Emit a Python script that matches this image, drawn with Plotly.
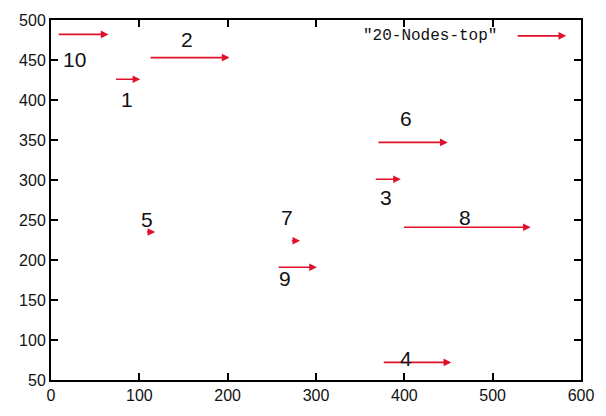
import plotly.graph_objects as go

# node ids and vector data (start x, end x, y)
nodes = ["1", "2", "3", "4", "5", "6", "7", "8", "9", "10"]
x_start = [72, 111, 366, 375, 107, 369, 271, 398, 256, 7]
x_end = [101, 202, 396, 453, 118, 449, 282, 543, 301, 65]
y_val = [426, 453, 301, 72, 235, 347, 224, 241, 191, 482]
label_x = [86, 154, 379, 402, 109, 402, 267, 469, 265, 27]
label_y = [401, 476, 278, 77, 251, 377, 253, 253, 177, 451]
x_ticks = [0, 100, 200, 300, 400, 500, 600]
y_ticks = [50, 100, 150, 200, 250, 300, 350, 400, 450, 500]
series_name = '"20-Nodes-top"'

RED = "#e0102a"
fig = go.Figure()
# invisible trace to establish axes
fig.add_trace(go.Scatter(x=x_start + x_end, y=y_val + y_val, mode="markers",
                         marker=dict(opacity=0), showlegend=False, hoverinfo="skip"))

ann = []
for xs, xe, y in zip(x_start, x_end, y_val):
    ann.append(dict(x=xe, y=y, ax=xs, ay=y, xref="x", yref="y", axref="x", ayref="y",
                    showarrow=True, arrowhead=2, arrowsize=0.95, arrowwidth=1.6,
                    arrowcolor=RED, text=""))
for t, lx, ly in zip(nodes, label_x, label_y):
    ann.append(dict(x=lx, y=ly, xref="x", yref="y", text=t, showarrow=False,
                    font=dict(family="Liberation Sans", size=21, color="#111"),
                    xanchor="center", yanchor="middle"))
# legend entry
ann.append(dict(x=0.845, y=0.956, xref="paper", yref="paper", text=series_name,
                showarrow=False, xanchor="right", yanchor="middle",
                font=dict(family="Liberation Mono", size=16, color="#111")))
ann.append(dict(x=0.972, y=0.956, xref="paper", yref="paper", ax=-50, ay=0,
                showarrow=True, arrowhead=2, arrowsize=0.95, arrowwidth=1.6,
                arrowcolor=RED, text=""))

fig.update_layout(
    width=606, height=416,
    margin=dict(l=51, r=20, t=17, b=33),
    paper_bgcolor="white", plot_bgcolor="white",
    annotations=ann, showlegend=False,
    font=dict(family="Liberation Sans", size=16, color="#111"),
)
axis_style = dict(showline=True, linecolor="black", linewidth=2, mirror="ticks",
                  ticks="inside", ticklen=7, tickwidth=2, tickcolor="black",
                  showgrid=False, zeroline=False)
fig.update_xaxes(range=[0, 600], tickvals=x_ticks, **axis_style)
fig.update_yaxes(range=[50, 500], tickvals=y_ticks, **axis_style)

fig.write_html("out.html", config={"displayModeBar": False},
               post_script="document.body.style.margin='0';document.body.style.overflow='hidden';")
